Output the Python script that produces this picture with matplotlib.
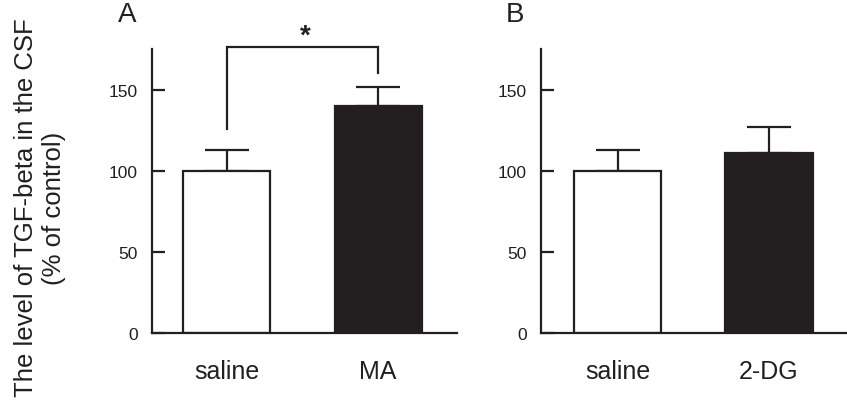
import matplotlib
matplotlib.use("Agg")
import matplotlib.pyplot as plt

plt.rcParams['font.family'] = ['Liberation Sans', 'DejaVu Sans']

cats_a = ["saline", "MA"]
vals_a = [100, 140]
errs_a = [12.5, 11.5]

cats_b = ["saline", "2-DG"]
vals_b = [100, 111]
errs_b = [13, 16]

colors = ["white", "#231f20"]
ylabel = "The level of TGF-beta in the CSF\n(% of control)"

W, H = 847, 406
fig = plt.figure(figsize=(W / 100, H / 100), dpi=100)

def make_ax(left_px, right_px, xlim):
    ax = fig.add_axes([left_px / W, 1 - 334 / H, (right_px - left_px) / W, (334 - 50) / H])
    ax.set_ylim(0, 175)
    ax.set_xlim(*xlim)
    for s in ["top", "right"]:
        ax.spines[s].set_visible(False)
    for s in ["left", "bottom"]:
        ax.spines[s].set_linewidth(1.6)
        ax.spines[s].set_color("#231f20")
    ax.set_yticks([0, 50, 100, 150])
    ax.tick_params(axis="y", direction="in", length=9, width=1.6, labelsize=12.5,
                   pad=10, color="#231f20", labelcolor="#231f20")
    ax.tick_params(axis="x", length=0, labelsize=18, pad=19, labelcolor="#231f20")
    return ax

def draw(ax, cats, vals, errs):
    x = list(range(len(cats)))
    ax.errorbar(x, vals, yerr=[[0] * len(vals), errs], fmt="none", ecolor="#231f20",
                elinewidth=1.6, capsize=16, capthick=1.6, zorder=1)
    ax.bar(x, vals, width=0.575, color=colors, edgecolor="#231f20", linewidth=1.6, zorder=2)
    ax.set_xticks(x)
    ax.set_xticklabels(cats)

axA = make_ax(152, 457, (-0.492, 1.521))
draw(axA, cats_a, vals_a, errs_a)
axA.plot([0, 0, 1, 1], [126, 176.5, 176.5, 160.5], color="#231f20", lw=1.6,
         clip_on=False, solid_joinstyle="miter")
axA.text(0.52, 183, "*", ha="center", va="center", fontsize=20, fontweight="bold",
         color="#231f20")

fig.text(40 / W, 1 - 208 / H, ylabel, fontsize=18.5, linespacing=1.2, rotation=90,
         ha="center", va="center", multialignment="center", color="#231f20")

axB = make_ax(541, 847, (-0.505, 1.515))
draw(axB, cats_b, vals_b, errs_b)

fig.text(127 / W, 1 - 2 / H, "A", fontsize=20, ha="center", va="top", color="#231f20")
fig.text(515 / W, 1 - 2 / H, "B", fontsize=20, ha="center", va="top", color="#231f20")

fig.savefig("out.png", dpi=100)
